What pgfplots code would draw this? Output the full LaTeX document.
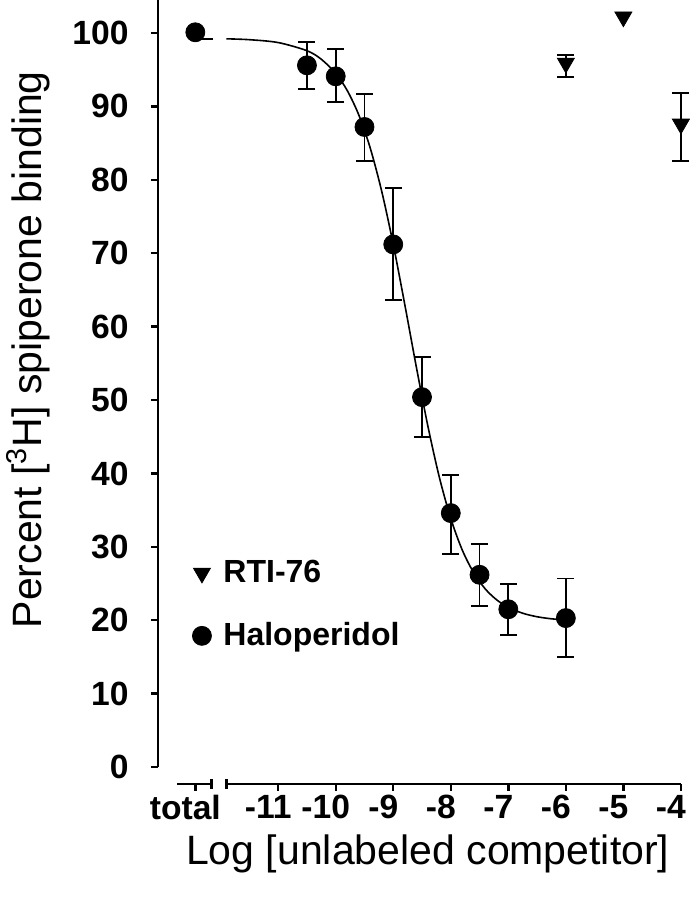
\documentclass[border=0pt]{standalone}
\usepackage{fontspec}
\setmainfont{Liberation Sans}
\usepackage{pgfplots}
\pgfplotsset{compat=1.18}
\pgfplotsset{dotlegend/.style={legend image code/.code={\draw[##1] plot coordinates {(0pt,0pt)};}}}
\begin{document}
\begin{tikzpicture}
\begin{axis}[
  scale only axis, width=261.5pt, height=392pt,
  xmin=-13.09, xmax=-4, ymin=-2.3, ymax=104.5,
  clip=false,
  axis x line*=bottom, axis y line*=left,
  axis line style={draw=none},
  tick align=outside,
  major tick length=3.5pt,
  tick style={line width=1.2pt, black},
  xtick={-12.44,-11,-10,-9,-8,-7,-6,-5,-4},
  xticklabels={total,-11,-10,-9,-8,-7,-6,-5,-4},
  ytick={0,10,...,100},
  minor tick num=0,
  /pgf/number format/assume math mode=true,
  ticklabel style={font=\bfseries\fontsize{16.8}{18}\selectfont},
  yticklabel style={anchor=east, inner sep=0pt, xshift=-11pt},
  xticklabel style={anchor=north, inner sep=0pt, yshift=-2pt, xshift=-5pt},
  xlabel={Log [unlabeled competitor]},
  ylabel={Percent [\textsuperscript{3}H] spiperone binding},
  label style={font=\fontsize{20.5}{24}\selectfont},
  xlabel style={at={(rel axis cs:0.516,-0.0893)}, anchor=center},
  ylabel style={at={(rel axis cs:-0.2486,0.554)}, anchor=center},
  legend style={draw=none, fill=none, inner sep=0pt, outer sep=0pt,
    at={(axis cs:-12.49,28.7)}, anchor=north west,
    font=\bfseries\fontsize{16}{18}\selectfont,
    row sep=14.5pt, column sep=4pt},
  legend cell align=left,
]
% fitted curve
\addplot[black, line width=0.8pt, forget plot] coordinates {(-12.44,99.2)(-12.14,99.2)};
\addplot[black, line width=0.8pt, smooth, forget plot] coordinates {
(-11.9,99.21)(-11.5,99.09)(-11,98.70)(-10.5,97.59)(-10.25,96.42)(-10,94.50)
(-9.8,92.17)(-9.6,88.86)(-9.4,84.33)(-9.2,78.42)(-9,71.20)(-8.8,63.03)
(-8.6,54.56)(-8.4,46.52)(-8.2,39.52)(-8,33.86)(-7.8,29.56)(-7.6,26.45)
(-7.4,24.26)(-7.2,22.77)(-7,21.76)(-6.75,20.96)(-6.5,20.48)(-6.25,20.20)(-6,20.04)};
% RTI-76
\addplot[black, only marks, mark=triangle*, mark size=4.9pt, mark options={rotate=180},
  dotlegend,
  error bars/.cd, y dir=both, y explicit,
  error bar style={line width=0.9pt},
  error mark options={rotate=90, mark size=4.25pt, line width=0.9pt}]
  table[x=x, y=y, y error plus=ep, y error minus=em] {
x y ep em
-6 95.9 1.1 1.9
-4 87.6 4.2 5.0
};
\addlegendentry{RTI-76}
% Haloperidol
\addplot[black, only marks, mark=*, mark size=4.75pt,
  dotlegend,
  error bars/.cd, y dir=both, y explicit,
  error bar style={line width=0.9pt},
  error mark options={rotate=90, mark size=4.25pt, line width=0.9pt}]
  table[x=x, y=y, y error plus=ep, y error minus=em] {
x y ep em
-10.5 95.6 3.2 3.2
-10 94.1 3.7 3.5
-9.5 87.2 4.5 4.6
-9 71.2 7.7 7.6
-8.5 50.4 5.5 5.4
-8 34.6 5.2 5.6
-7.5 26.2 4.2 4.3
-7 21.5 3.4 3.5
-6 20.3 5.4 5.3
};
\addlegendentry{Haloperidol}
\addplot[black, only marks, mark=*, mark size=4.75pt, forget plot] coordinates {(-12.44,100.1)};
\addplot[black, only marks, mark=triangle*, mark size=4.9pt, mark options={rotate=180}, forget plot] coordinates {(-5,102.2)};
% axis lines (broken x axis)
\draw[line width=1.2pt] (axis cs:-13.09,0) -- (axis cs:-13.09,104.5);
\draw[line width=1.2pt] (axis cs:-12.75,-2.3) -- (axis cs:-12.16,-2.3);
\draw[line width=1.2pt] (axis cs:-12.16,-3.0) -- (axis cs:-12.16,-1.6);
\draw[line width=1.2pt] (axis cs:-11.9,-2.3) -- (axis cs:-4,-2.3);
\draw[line width=1.2pt] (axis cs:-11.9,-3.0) -- (axis cs:-11.9,-1.6);
\coordinate (bbsw) at (rel axis cs:-0.302,-0.148);
\coordinate (bbne) at (rel axis cs:1.0172,1);
\end{axis}
\pgfresetboundingbox
\path[use as bounding box] (bbsw) rectangle (bbne);
\end{tikzpicture}
\end{document}
